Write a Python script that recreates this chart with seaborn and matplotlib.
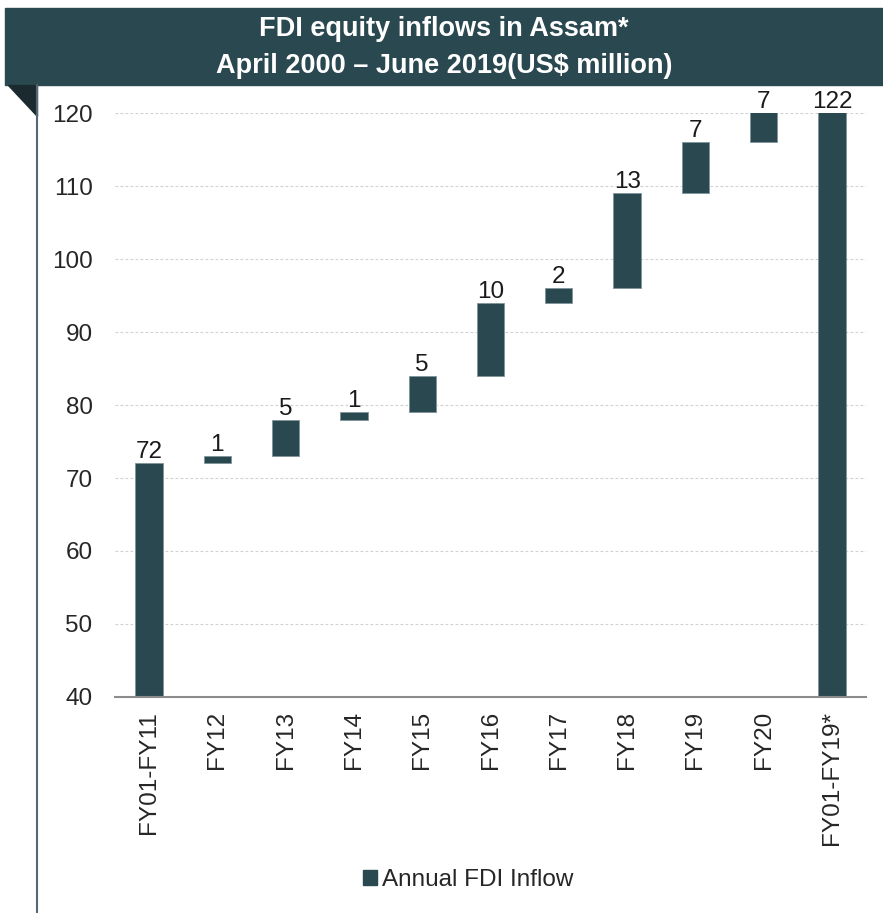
import numpy as np
import pandas as pd
import seaborn as sns
import matplotlib.pyplot as plt
from matplotlib.patches import Rectangle, Polygon, Patch
from matplotlib.lines import Line2D

# data
categories = ["FY01-FY11", "FY12", "FY13", "FY14", "FY15", "FY16",
              "FY17", "FY18", "FY19", "FY20", "FY01-FY19*"]
increments = [72, 1, 5, 1, 5, 10, 2, 13, 7, 7]
total = 122

bar_color = "#2A4850"
dark_fold = "#1B2A2F"

# waterfall: floating bars on top of running total, total bar from zero
tops = np.cumsum(increments)
bottoms = np.concatenate([[0], tops[:-1]])
df = pd.DataFrame({
    "category": categories,
    "value": list(increments) + [total],
    "bottom": list(bottoms) + [0],
})

sns.set_style("white")
plt.rcParams["font.family"] = ["Liberation Sans", "DejaVu Sans"]

fig = plt.figure(figsize=(8.83, 9.13), dpi=100)
ax = fig.add_axes([0.130, 0.2366, 0.851, 0.6396])

sns.barplot(data=df, x="category", y="value", bottom=df["bottom"],
            color=bar_color, saturation=1, width=0.4, ax=ax,
            edgecolor="#7F9499", linewidth=0.6)

ax.set_ylim(40, 120)
ax.set_yticks(range(40, 121, 10))
ax.set_xlim(-0.5, len(categories) - 0.5)
ax.yaxis.grid(True, linestyle=(0, (2.5, 2)), color="#D0D0D0", linewidth=0.8)
ax.set_axisbelow(True)
for side in ["left", "right", "top"]:
    ax.spines[side].set_visible(False)
ax.spines["bottom"].set_color("#8C8C8C")
ax.spines["bottom"].set_linewidth(1.5)

ax.set_xticks(np.arange(len(categories)))
ax.set_xticklabels(categories, rotation=90, fontsize=17.5)
ax.set_xticks(np.arange(-0.5, len(categories)), minor=True)
ax.tick_params(axis="x", which="major", length=0, pad=10)
ax.tick_params(axis="x", which="minor", length=7, width=1.5, color="#8C8C8C",
               direction="out")
ax.tick_params(axis="y", length=0, labelsize=17.5, pad=16)
ax.set_xlabel("")
ax.set_ylabel("")

# value labels above each bar (clipped at the axis top)
for i, row in df.iterrows():
    top = min(row["bottom"] + row["value"], 120)
    ax.annotate(str(row["value"]), (i, top), xytext=(0, 0),
                textcoords="offset points", ha="center", va="bottom",
                fontsize=17.5, color="#1A1A1A", annotation_clip=False)

# title banner
fig.patches.append(Rectangle((5 / 883, 1 - 85 / 913), 1 - 5 / 883, 77 / 913,
                             transform=fig.transFigure, color=bar_color,
                             zorder=0))
fig.patches.append(Polygon([(8 / 883, 1 - 85 / 913), (37 / 883, 1 - 85 / 913),
                            (37 / 883, 1 - 116 / 913)],
                           closed=True, transform=fig.transFigure,
                           color=dark_fold))
fig.lines.append(Line2D([37 / 883, 37 / 883], [0, 1 - 85 / 913],
                        transform=fig.transFigure, color="#556872",
                        linewidth=1.5))
fig.text(0.503, 1 - 29 / 913, "FDI equity inflows in Assam*", ha="center",
         va="center", fontsize=19.5, fontweight="bold", color="white")
fig.text(0.503, 1 - 66 / 913, "April 2000 \u2013 June 2019(US$ million)",
         ha="center", va="center", fontsize=19.5, fontweight="bold",
         color="white")

handle = Patch(facecolor=bar_color, edgecolor=bar_color)
fig.legend([handle], ["Annual FDI Inflow"], loc="center",
           bbox_to_anchor=(0.53, 1 - 880 / 913), frameon=False, fontsize=17.5,
           handlelength=0.6, handleheight=0.6, handletextpad=0.2)

fig.savefig("out.png", dpi=100)
